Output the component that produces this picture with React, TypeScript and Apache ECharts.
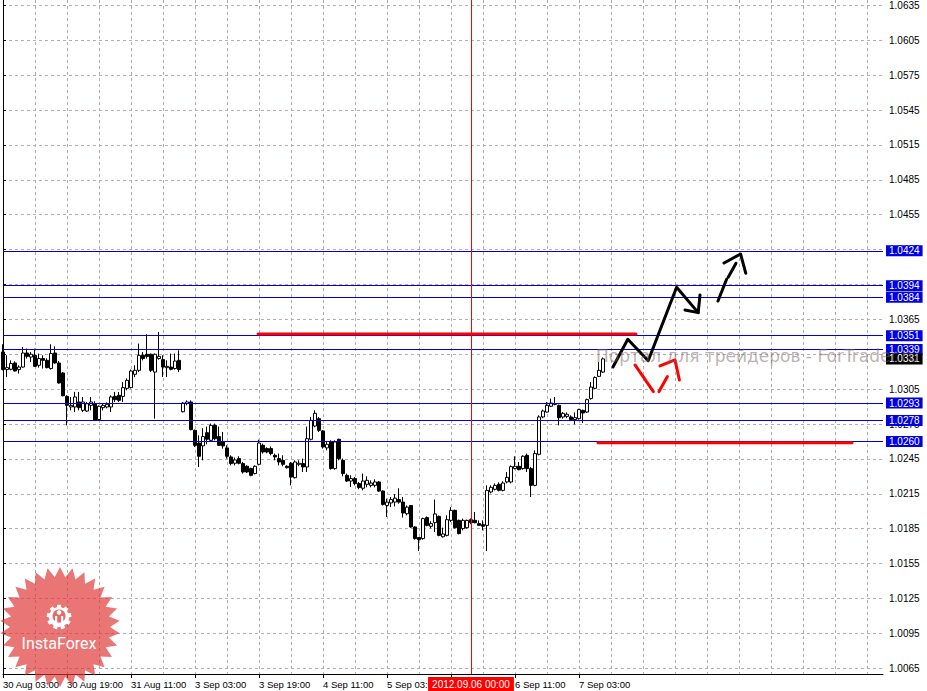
import React, { useEffect, useRef } from "react";
import * as echarts from "echarts";

// ---------- time axis (H1 bars, weekends skipped) ----------
const MONTHS = ["Jan", "Feb", "Mar", "Apr", "May", "Jun", "Jul", "Aug", "Sep", "Oct", "Nov", "Dec"];
const FIRST_BAR_UTC = Date.UTC(2012, 7, 30, 3, 0); // 30 Aug 2012 03:00
const SLOT_COUNT = 221; // bar slots visible in the window (incl. right shift)

function buildCategories(): string[] {
  const out: string[] = [];
  let t = FIRST_BAR_UTC;
  while (out.length < SLOT_COUNT) {
    const d = new Date(t);
    const wd = d.getUTCDay();
    if (wd !== 0 && wd !== 6) {
      out.push(`${d.getUTCDate()} ${MONTHS[d.getUTCMonth()]} ${String(d.getUTCHours()).padStart(2, "0")}:00`);
    }
    t += 3600000;
  }
  return out;
}

// ---------- OHLC (H1) ----------
const OPEN = [
  1.03369, 1.03218, 1.03221, 1.03275, 1.03218, 1.0324, 1.03361, 1.03326, 1.03341, 1.03255,
  1.03313, 1.03298, 1.03227, 1.03361, 1.03275, 1.03189, 1.02988, 1.02897, 1.02897, 1.0294,
  1.02868, 1.02862, 1.02911, 1.02925, 1.02788, 1.02891, 1.02897, 1.02897, 1.02988, 1.02997,
  1.02988, 1.03057, 1.03063, 1.03178, 1.03212, 1.03341, 1.0335, 1.0335, 1.03197, 1.03313,
  1.03304, 1.03235, 1.0324, 1.03227, 1.03298, 1.02856, 1.02926, 1.0294, 1.02696, 1.02587,
  1.02562, 1.02676, 1.0261, 1.02739, 1.02642, 1.02596, 1.02545, 1.02467, 1.02413, 1.02453,
  1.0241, 1.02387, 1.02367, 1.02324, 1.02404, 1.02567, 1.02539, 1.02539, 1.02481, 1.02453,
  1.02438, 1.02387, 1.02413, 1.02289, 1.02404, 1.0241, 1.02381, 1.02619, 1.02733, 1.02796,
  1.02691, 1.02545, 1.02596, 1.02367, 1.02619, 1.02438, 1.02309, 1.0226, 1.02281, 1.02238,
  1.02198, 1.02232, 1.02223, 1.02223, 1.02252, 1.02174, 1.0205, 1.02072, 1.02079, 1.02101,
  1.02079, 1.01979, 1.0205, 1.01865, 1.01774, 1.01765, 1.01946, 1.01871, 1.01902, 1.01956,
  1.01781, 1.01793, 1.01922, 1.02008, 1.01922, 1.01851, 1.01859, 1.01928, 1.01922, 1.01894,
  1.01885, 1.01879, 1.02166, 1.02189, 1.02232, 1.0218, 1.02252, 1.02252, 1.02367, 1.02387,
  1.02367, 1.02481, 1.02367, 1.02223, 1.0249, 1.02811, 1.02853, 1.02903, 1.02925, 1.02911,
  1.02811, 1.02816, 1.02811, 1.02788, 1.02796, 1.02868, 1.02853, 1.02969, 1.03057, 1.0316,
  1.03197,
];
const CLOSE = [
  1.03218, 1.03235, 1.0327, 1.03206, 1.0324, 1.03361, 1.03332, 1.0335, 1.03246, 1.03313,
  1.03298, 1.03235, 1.03356, 1.03275, 1.03103, 1.02994, 1.02911, 1.02911, 1.02983, 1.02891,
  1.0294, 1.02925, 1.0294, 1.02782, 1.02903, 1.02911, 1.0292, 1.02983, 1.0296, 1.02954,
  1.03063, 1.03126, 1.03206, 1.03212, 1.03341, 1.03313, 1.03332, 1.03212, 1.0335, 1.03332,
  1.0324, 1.03246, 1.03221, 1.03292, 1.03218, 1.02931, 1.0294, 1.02702, 1.02567, 1.02473,
  1.02642, 1.02619, 1.02739, 1.02624, 1.02567, 1.02562, 1.02473, 1.0241, 1.02442, 1.02413,
  1.02338, 1.02338, 1.02309, 1.02387, 1.02587, 1.0251, 1.0251, 1.02496, 1.02467, 1.02424,
  1.02404, 1.02375, 1.02294, 1.02424, 1.02413, 1.02381, 1.02624, 1.02782, 1.02842, 1.02696,
  1.02553, 1.02576, 1.02367, 1.02596, 1.02453, 1.02324, 1.0226, 1.02281, 1.02238, 1.02204,
  1.0226, 1.02266, 1.02243, 1.02252, 1.02174, 1.02059, 1.02079, 1.02101, 1.02113, 1.02079,
  1.01985, 1.02036, 1.01865, 1.01765, 1.01756, 1.01937, 1.01879, 1.01894, 1.01977, 1.01793,
  1.01805, 1.01928, 1.02008, 1.01859, 1.01808, 1.01922, 1.01922, 1.01902, 1.01902, 1.01879,
  1.01871, 1.0218, 1.02206, 1.02223, 1.0218, 1.02243, 1.02292, 1.02384, 1.02387, 1.02358,
  1.02473, 1.02367, 1.02223, 1.02496, 1.02811, 1.02862, 1.02911, 1.02931, 1.0292, 1.02805,
  1.02842, 1.02834, 1.02788, 1.02805, 1.02874, 1.02845, 1.0296, 1.03068, 1.0315, 1.03212,
  1.0331,
];
const HIGH = [
  1.03436, 1.03341, 1.03298, 1.03289, 1.03255, 1.03412, 1.03399, 1.03369, 1.03399, 1.03356,
  1.03341, 1.03315, 1.03436, 1.03418, 1.03292, 1.03197, 1.02997, 1.02983, 1.03026, 1.03026,
  1.02983, 1.0294, 1.02983, 1.02946, 1.02911, 1.02931, 1.02937, 1.02997, 1.03026, 1.03026,
  1.03111, 1.03143, 1.03218, 1.03255, 1.03442, 1.03369, 1.03522, 1.03356, 1.03356, 1.03541,
  1.03341, 1.03298, 1.03356, 1.03356, 1.03384, 1.0294, 1.02954, 1.02954, 1.02702, 1.02653,
  1.02714, 1.02728, 1.02754, 1.02754, 1.02728, 1.02682, 1.02567, 1.02481, 1.02462, 1.02473,
  1.02424, 1.02395, 1.02375, 1.02395, 1.02616, 1.02582, 1.0255, 1.02557, 1.02496, 1.02496,
  1.02481, 1.02395, 1.02424, 1.02438, 1.02438, 1.02453, 1.02728, 1.02811, 1.02868, 1.02811,
  1.02696, 1.02596, 1.0261, 1.0261, 1.02624, 1.02453, 1.02324, 1.02309, 1.02294, 1.02252,
  1.02324, 1.02301, 1.02266, 1.02275, 1.0226, 1.0218, 1.02108, 1.02123, 1.02148, 1.02198,
  1.02123, 1.0205, 1.0205, 1.01871, 1.01779, 1.01946, 1.01956, 1.01914, 1.02101, 1.01965,
  1.01859, 1.01965, 1.02036, 1.02014, 1.01928, 1.01937, 1.01928, 1.01939, 1.01994, 1.01922,
  1.01922, 1.02223, 1.02223, 1.0224, 1.02249, 1.02258, 1.02338, 1.02395, 1.02473, 1.02424,
  1.02481, 1.02496, 1.02381, 1.02524, 1.02825, 1.02874, 1.0294, 1.02969, 1.02983, 1.02917,
  1.02853, 1.0285, 1.02825, 1.0285, 1.02882, 1.02874, 1.02969, 1.03111, 1.0316, 1.03283,
  1.03322,
];
const LOW = [
  1.03212, 1.03154, 1.03212, 1.03203, 1.03184, 1.03235, 1.03313, 1.03283, 1.0324, 1.03235,
  1.03227, 1.03229, 1.03218, 1.0327, 1.03098, 1.02988, 1.02739, 1.02868, 1.02853, 1.02868,
  1.02853, 1.02853, 1.02868, 1.02776, 1.02782, 1.02868, 1.02885, 1.02853, 1.0294, 1.0294,
  1.0294, 1.0304, 1.03057, 1.03154, 1.03197, 1.03298, 1.03313, 1.03197, 1.02796, 1.03304,
  1.03154, 1.03154, 1.03212, 1.03218, 1.03197, 1.0285, 1.02911, 1.02696, 1.02553, 1.0238,
  1.02438, 1.02576, 1.02596, 1.0261, 1.02562, 1.02539, 1.02453, 1.02395, 1.02395, 1.02404,
  1.02324, 1.0233, 1.02301, 1.02318, 1.02395, 1.02496, 1.02499, 1.02481, 1.02438, 1.02395,
  1.02387, 1.02367, 1.02223, 1.02281, 1.02387, 1.02338, 1.02338, 1.0261, 1.02722, 1.02682,
  1.02539, 1.02524, 1.02358, 1.02358, 1.02438, 1.02301, 1.02252, 1.02209, 1.02223, 1.02189,
  1.0218, 1.02206, 1.02206, 1.02206, 1.02166, 1.0205, 1.01951, 1.02036, 1.02042, 1.02065,
  1.01946, 1.01965, 1.01859, 1.01756, 1.01658, 1.01756, 1.01871, 1.01854, 1.01822, 1.01785,
  1.01774, 1.01785, 1.01908, 1.01851, 1.01802, 1.01836, 1.01851, 1.01888, 1.01897, 1.01879,
  1.01836, 1.01658, 1.02154, 1.0218, 1.02171, 1.02171, 1.0224, 1.0224, 1.02361, 1.02352,
  1.02358, 1.02338, 1.02123, 1.02215, 1.02481, 1.028, 1.0285, 1.02897, 1.02911, 1.02739,
  1.02796, 1.028, 1.02782, 1.02748, 1.02788, 1.02759, 1.02845, 1.0296, 1.03049, 1.03154,
  1.03189,
];

// ---------- price axis ----------
const Y_MIN = 1.00601;
const Y_MAX = 1.06396;
const Y_TICKS = [
  1.0065, 1.0095, 1.0125, 1.0155, 1.0185, 1.0215, 1.0245, 1.0275, 1.0305, 1.0335,
  1.0365, 1.0395, 1.0425, 1.0455, 1.0485, 1.0515, 1.0545, 1.0575, 1.0605, 1.0635,
];
const LEVELS = [1.0424, 1.0394, 1.0384, 1.0351, 1.0339, 1.0293, 1.0278, 1.026];
const BID = 1.0331;
const MARKER_BAR = 117;
const MARKER_TEXT = "2012.09.06 00:00";
const TIME_LABEL_EVERY = 16;
const GRID_EVERY = 8;

// ---------- hand drawings (bar index, price) ----------
const RED_LINE_1 = [[63.75, 1.03525], [158.25, 1.03525]];
const RED_LINE_2 = [[148.75, 1.0259], [212.25, 1.0259]];
const BLACK_PATH = [[152.5, 1.03241], [156.2, 1.03479], [161.3, 1.03295], [168.4, 1.03926], [173.8, 1.03708]];
const BLACK_HEAD = [[170.5, 1.03731], [173.8, 1.03708], [174.25, 1.0386]];
const BLACK_DASH_1 = [[178.75, 1.03808], [180.9, 1.03995]];
const BLACK_DASH_2 = [[181.3, 1.04012], [183.25, 1.04133]];
const BLACK_DASH_HEAD = [[180.25, 1.04135], [184.4, 1.04212], [185.7, 1.04046]];
const RED_DASH_1 = [[158, 1.03258], [162.6, 1.03029]];
const RED_DASH_2 = [[164, 1.03029], [166.1, 1.03158]];
const RED_DASH_HEAD = [[164.25, 1.0325], [168, 1.03301], [169.1, 1.03129]];

const AXIS_FONT = '"Liberation Sans Narrow", "Liberation Sans", Arial, sans-serif';

function starPoints(cx: number, cy: number, R: number, r: number, n: number, rot = -Math.PI / 2) {
  const pts: number[][] = [];
  for (let k = 0; k < n * 2; k++) {
    const rad = k % 2 === 0 ? R : r;
    const a = rot + (k * Math.PI) / n;
    pts.push([cx + rad * Math.cos(a), cy + rad * Math.sin(a)]);
  }
  return pts;
}

function gearPoints(cx: number, cy: number, R: number, r: number, teeth: number) {
  const pts: number[][] = [];
  const step = (Math.PI * 2) / teeth;
  for (let t = 0; t < teeth; t++) {
    const a = t * step - Math.PI / 2;
    const w = step * 0.22;
    pts.push([cx + r * Math.cos(a - w * 1.4), cy + r * Math.sin(a - w * 1.4)]);
    pts.push([cx + R * Math.cos(a - w), cy + R * Math.sin(a - w)]);
    pts.push([cx + R * Math.cos(a + w), cy + R * Math.sin(a + w)]);
    pts.push([cx + r * Math.cos(a + w * 1.4), cy + r * Math.sin(a + w * 1.4)]);
  }
  return pts;
}

export default function App() {
  const ref = useRef<HTMLDivElement>(null);

  useEffect(() => {
    document.body.style.margin = "0";
    const el = ref.current!;
    const chart = echarts.init(el, undefined, { renderer: "svg", width: 927, height: 691 });

    const categories = buildCategories();
    const lastBar = OPEN.length - 1;
    const candleData = OPEN.map((o, i) => [o, CLOSE[i], LOW[i], HIGH[i]]);
    const showTimeLabel = (i: number) => i % TIME_LABEL_EVERY === 0 && i <= lastBar;

    const boxLabel = (bg: string) => ({
      show: true,
      position: "end",
      distance: 3,
      formatter: (p: any) => Number(p.value).toFixed(4),
      color: "#ffffff",
      backgroundColor: bg,
      padding: [1, 3, 0, 3],
      fontFamily: AXIS_FONT,
      fontSize: 10,
      lineHeight: 10,
    });

    const levelLines = LEVELS.map((v) => ({
      yAxis: v,
      lineStyle: { color: "#0000d0", width: 1, type: "solid" },
      label: boxLabel("#0000e6"),
    }));

    const drawings = [
      { pts: RED_LINE_1, color: "#ff0000" },
      { pts: RED_LINE_2, color: "#ff0000" },
      { pts: BLACK_PATH, color: "#000000" },
      { pts: BLACK_HEAD, color: "#000000" },
      { pts: BLACK_DASH_1, color: "#000000" },
      { pts: BLACK_DASH_2, color: "#000000" },
      { pts: BLACK_DASH_HEAD, color: "#000000" },
      { pts: RED_DASH_1, color: "#ff0000" },
      { pts: RED_DASH_2, color: "#ff0000" },
      { pts: RED_DASH_HEAD, color: "#ff0000" },
    ];

    const starFill = "rgba(224, 52, 52, 0.68)";

    const option: any = {
      animation: false,
      backgroundColor: "#ffffff",
      grid: { left: 3, top: 0, width: 880, height: 674, show: false, containLabel: false, outerBoundsMode: "none" },
      xAxis: [
        {
          type: "category",
          data: categories,
          boundaryGap: false,
          gridIndex: 0,
          axisLine: { show: true, lineStyle: { color: "#000000", width: 1 } },
          axisTick: { show: true, interval: showTimeLabel, length: 4, lineStyle: { color: "#000000" } },
          axisLabel: {
            show: true,
            interval: showTimeLabel,
            align: "left",
            margin: 5,
            color: "#000000",
            fontFamily: AXIS_FONT,
            fontSize: 9.5,
          },
          splitLine: {
            show: true,
            interval: (i: number) => i % GRID_EVERY === 0,
            lineStyle: { color: "#a9b1a9", type: [3, 3], width: 1 },
          },
        },
        { type: "value", min: 0, max: SLOT_COUNT - 1, show: false, gridIndex: 0, splitLine: { show: false } },
      ],
      yAxis: {
        type: "value",
        position: "right",
        min: Y_MIN,
        max: Y_MAX,
        axisLine: { show: true, lineStyle: { color: "#000000", width: 1 } },
        axisTick: { show: true, length: 3, customValues: Y_TICKS, lineStyle: { color: "#000000" } },
        axisLabel: {
          show: true,
          customValues: Y_TICKS,
          formatter: (v: number) => v.toFixed(4),
          margin: 6,
          color: "#000000",
          fontFamily: AXIS_FONT,
          fontSize: 10,
        },
        splitLine: { show: true, lineStyle: { color: "#b9a9b9", type: [3, 3], width: 1 } },
      },
      series: [
        {
          type: "candlestick",
          xAxisIndex: 0,
          yAxisIndex: 0,
          data: candleData,
          barWidth: 3,
          clip: false,
          itemStyle: {
            color: "#ffffff",
            color0: "#000000",
            borderColor: "#000000",
            borderColor0: "#000000",
            borderWidth: 1,
          },
          markLine: {
            silent: true,
            symbol: ["none", "none"],
            precision: 5,
            animation: false,
            emphasis: { disabled: true },
            data: levelLines,
          },
        },
        {
          type: "line",
          xAxisIndex: 0,
          yAxisIndex: 0,
          data: [],
          silent: true,
          z: 6,
          markLine: {
            silent: true,
            symbol: ["none", "none"],
            precision: 5,
            animation: false,
            emphasis: { disabled: true },
            data: [
              {
                xAxis: categories[MARKER_BAR],
                lineStyle: { color: "#ff0000", width: 1, type: "solid", opacity: 1 },
                label: {
                  show: true,
                  position: "start",
                  distance: 3,
                  formatter: MARKER_TEXT,
                  color: "#ffffff",
                  backgroundColor: "#ff0000",
                  padding: [2, 4, 1, 4],
                  fontFamily: AXIS_FONT,
                  fontSize: 10,
                  lineHeight: 11,
                },
              },
              {
                yAxis: BID,
                lineStyle: { color: "rgba(0,0,0,0)", width: 1, type: "solid" },
                label: boxLabel("#000000"),
              },
            ],
          },
        },
        {
          type: "lines",
          coordinateSystem: "cartesian2d",
          xAxisIndex: 1,
          yAxisIndex: 0,
          polyline: true,
          z: 5,
          silent: true,
          lineStyle: { width: 3, opacity: 1, cap: "round", join: "round" },
          data: drawings.map((d) => ({ coords: d.pts, lineStyle: { color: d.color, width: 3 } })),
        },
      ],
      graphic: [
        {
          type: "text",
          z: 90,
          left: 596,
          top: 347,
          silent: true,
          style: {
            text: "Портал для трейдеров - ForTrader.ru",
            fill: "rgba(120, 100, 100, 0.5)",
            font: '17px "DejaVu Sans", sans-serif',
          },
        },
        {
          type: "polygon",
          z: 100,
          silent: true,
          shape: { points: starPoints(60, 627, 60, 50, 30) },
          style: { fill: starFill },
        },
        {
          type: "polygon",
          z: 101,
          silent: true,
          shape: { points: gearPoints(59, 617, 12.5, 10, 9) },
          style: { fill: "#ffffff" },
        },
        { type: "circle", z: 102, silent: true, shape: { cx: 59, cy: 616, r: 6.5 }, style: { fill: "#e66a6a" } },
        { type: "circle", z: 103, silent: true, shape: { cx: 59, cy: 612.5, r: 2.3 }, style: { fill: "#ffffff" } },
        { type: "rect", z: 103, silent: true, shape: { x: 55, y: 616, width: 2.2, height: 13 }, style: { fill: "#ffffff" } },
        { type: "rect", z: 103, silent: true, shape: { x: 61, y: 616, width: 2.2, height: 13 }, style: { fill: "#ffffff" } },
        {
          type: "text",
          z: 104,
          silent: true,
          x: 59,
          y: 643,
          style: {
            text: "InstaForex",
            fill: "#ffffff",
            font: "16px Roboto, sans-serif",
            align: "center",
            verticalAlign: "middle",
          },
        },
      ],
    };

    chart.setOption(option);
    return () => chart.dispose();
  }, []);

  return <div ref={ref} style={{ position: "absolute", left: 0, top: 0, width: 927, height: 691 }} />;
}
